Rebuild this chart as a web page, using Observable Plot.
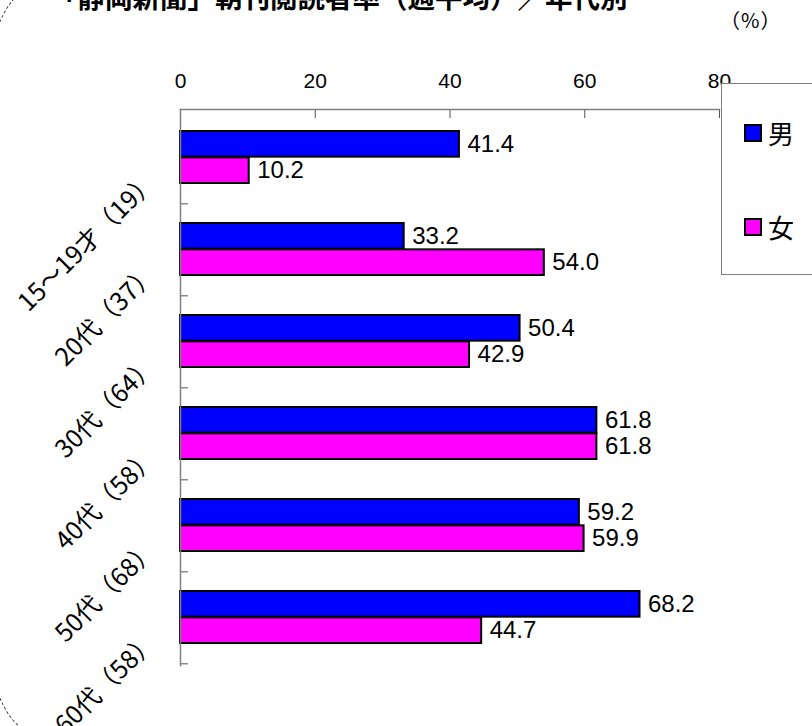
<!DOCTYPE html>
<html><head><meta charset="utf-8">
<script src="https://cdn.jsdelivr.net/npm/d3@7"></script>
<script src="https://cdn.jsdelivr.net/npm/@observablehq/plot@0.6"></script>
<style>
body{margin:0;background:#fff;}
#wrap{position:relative;width:812px;height:726px;overflow:hidden;background:#fff;font-family:"Liberation Sans","Noto Sans CJK JP",sans-serif;}
#border{position:absolute;left:-6px;top:-29px;width:900px;height:778px;border:1.5px dashed #333;border-radius:80px;box-sizing:border-box;}
#title{position:absolute;left:50px;top:-17px;font-family:"Noto Sans CJK JP",sans-serif;font-weight:bold;font-size:27.5px;line-height:1;white-space:nowrap;color:#000;}
#unit{position:absolute;left:720px;top:10px;font-family:"Noto Sans CJK JP",sans-serif;font-size:20px;line-height:1;color:#000;letter-spacing:1px;}
#chart{position:absolute;left:0;top:0;}
#legend{position:absolute;left:721px;top:83px;width:130px;height:192px;border:1.5px solid #808080;box-sizing:border-box;background:#fff;}
.item{position:absolute;left:22px;height:30px;display:flex;align-items:center;font-family:"Noto Sans CJK JP",sans-serif;font-size:26px;line-height:1;}
.sw{width:18px;height:18px;border:2px solid #000;box-sizing:border-box;margin-right:6px;}
</style></head><body>
<div id="wrap">
  <div id="border"></div>
  <div id="chart"></div>
  <div id="title"></div>
  <div id="unit"></div>
  <div id="legend"></div>
</div>
<script>
const titleText = "「静岡新聞」朝刊閲読者率（週平均）／年代別";
const unitText = "（%）";
const categories = ["15～19才（19）","20代（37）","30代（64）","40代（58）","50代（68）","60代（58）"];
const series = ["男","女"];
const male = [41.4, 33.2, 50.4, 61.8, 59.2, 68.2];
const female = [10.2, 54.0, 42.9, 61.8, 59.9, 44.7];
const xTicks = [0, 20, 40, 60, 80];
const colors = ["#0000ff", "#ff00ff"];

document.getElementById("title").textContent = titleText;
document.getElementById("unit").textContent = unitText;

const W = 812, H = 726, mL = 180, mT = 109, mR = 93, mB = 61;
const bw = (H - mT - mB) / categories.length;
const half = bw / 2;
const pad = 20;
const barCenterOffset = (half - pad) / 2;

const rows = categories.flatMap((c, i) => [
  {cat: c, sex: series[0], v: male[i]},
  {cat: c, sex: series[1], v: female[i]}
]);
const mRows = rows.filter(d => d.sex === series[0]);
const fRows = rows.filter(d => d.sex === series[1]);
const font = '"Liberation Sans","Noto Sans CJK JP",sans-serif';

const chart = Plot.plot({
  width: W, height: H,
  marginLeft: mL, marginTop: mT, marginRight: mR, marginBottom: mB,
  style: {fontFamily: font, background: "transparent", color: "#000", overflow: "visible"},
  x: {domain: [0, 80], axis: null},
  y: {domain: categories, padding: 0, axis: null},
  color: {domain: series, range: colors},
  marks: [
    Plot.barX(mRows, {x: "v", y: "cat", fill: "sex", stroke: "#000", strokeWidth: 2, insetTop: pad, insetBottom: half}),
    Plot.barX(fRows, {x: "v", y: "cat", fill: "sex", stroke: "#000", strokeWidth: 2, insetTop: half, insetBottom: pad}),
    Plot.text(mRows, {x: "v", y: "cat", text: d => d.v.toFixed(1), textAnchor: "start", dx: 8, dy: -barCenterOffset, fontSize: 24, fill: "#000"}),
    Plot.text(fRows, {x: "v", y: "cat", text: d => d.v.toFixed(1), textAnchor: "start", dx: 8, dy: barCenterOffset, fontSize: 24, fill: "#000"}),
    Plot.axisX({anchor: "top", ticks: xTicks, tickSize: 0, tickPadding: 22, fontSize: 21, tickFormat: d => String(d), label: null}),
    Plot.axisX({anchor: "top", ticks: xTicks.slice(1), tickSize: -8, fill: "none", stroke: "#555", label: null}),
    Plot.axisY({anchor: "left", tickSize: 0, tickRotate: -45, tickPadding: 28, dy: 20, fontSize: 25, fontFamily: '"Noto Sans CJK JP",sans-serif', label: null}),
    Plot.axisY({anchor: "left", tickSize: -8, fill: "none", stroke: "#555", dy: half, label: null}),
    Plot.frame({anchor: "top", stroke: "#808080", strokeWidth: 1.5}),
    Plot.frame({anchor: "left", stroke: "#808080", strokeWidth: 1.5})
  ]
});
document.getElementById("chart").appendChild(chart);

const legend = document.getElementById("legend");
const itemTops = [34, 128];
series.forEach((s, i) => {
  const it = document.createElement("div");
  it.className = "item";
  it.style.top = itemTops[i] + "px";
  const sw = document.createElement("div");
  sw.className = "sw";
  sw.style.background = colors[i];
  const t = document.createElement("span");
  t.textContent = s;
  it.appendChild(sw); it.appendChild(t);
  legend.appendChild(it);
});
</script>
</body></html>
